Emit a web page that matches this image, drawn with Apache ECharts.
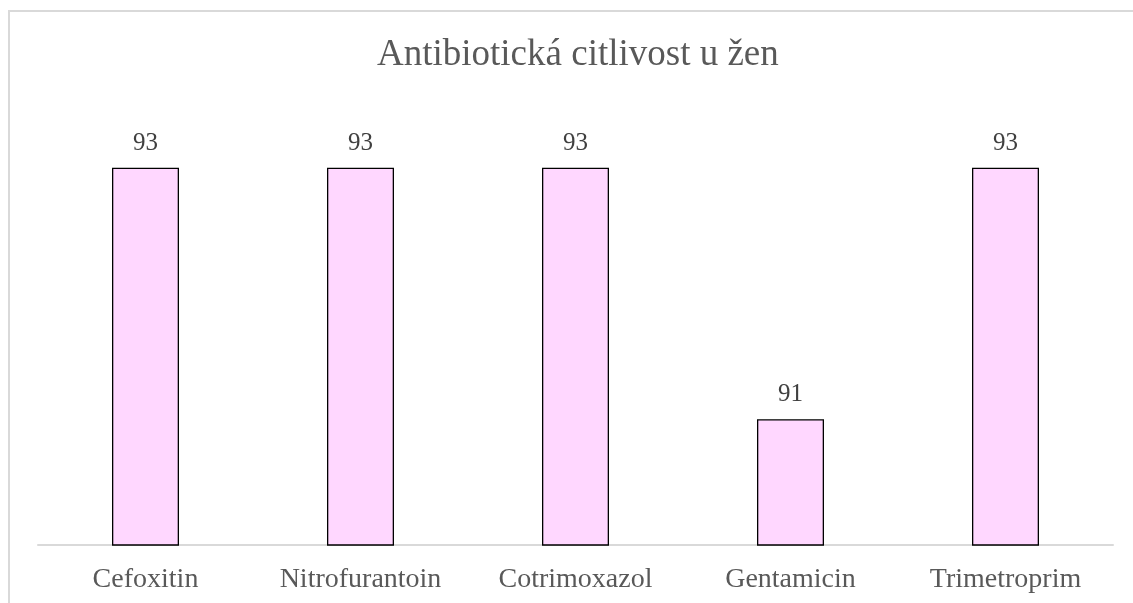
<!DOCTYPE html>
<html>
<head>
<meta charset="utf-8">
<script src="https://cdn.jsdelivr.net/npm/echarts@6/dist/echarts.min.js"></script>
<style>
  html, body { margin: 0; padding: 0; background: #fff; }
  #chart { width: 1133px; height: 603px; }
  #frame { position: absolute; left: 8px; top: 10px; width: 1200px; height: 700px; border: 2px solid #d9d9d9; box-sizing: border-box; }
</style>
</head>
<body>
<div id="frame"></div>
<div id="chart" style="position:absolute;left:0;top:0;"></div>
<script>
// data
var categories = ['Cefoxitin', 'Nitrofurantoin', 'Cotrimoxazol', 'Gentamicin', 'Trimetroprim'];
var values = [93, 93, 93, 91, 93];

var serif = '"Liberation Serif", "DejaVu Serif", serif';
var myChart = echarts.init(document.getElementById('chart'));
var option = {
    title: {
        text: 'Antibiotická citlivost u žen',
        left: 372,
        top: 32,
        textStyle: { fontFamily: serif, fontSize: 37, fontWeight: 'normal', color: '#595959' }
    },
    grid: { left: 38, right: 20, top: 42, bottom: 58 },
    xAxis: {
        type: 'category',
        data: categories,
        axisLine: { lineStyle: { color: '#d9d9d9', width: 2 } },
        axisTick: { show: false },
        axisLabel: { fontFamily: serif, fontSize: 28, color: '#595959', margin: 21 }
    },
    yAxis: {
        type: 'value',
        min: 90,
        max: 94,
        show: false,
        splitLine: { show: false }
    },
    series: [{
        type: 'bar',
        data: values,
        barWidth: 67,
        itemStyle: { color: '#ffd7ff', borderColor: '#000', borderWidth: 1.3 },
        label: {
            show: true,
            position: 'top',
            distance: 12,
            fontFamily: serif,
            fontSize: 25,
            color: '#404040'
        }
    }]
};
myChart.setOption(option);
window.onresize = myChart.resize;
</script>
</body>
</html>
